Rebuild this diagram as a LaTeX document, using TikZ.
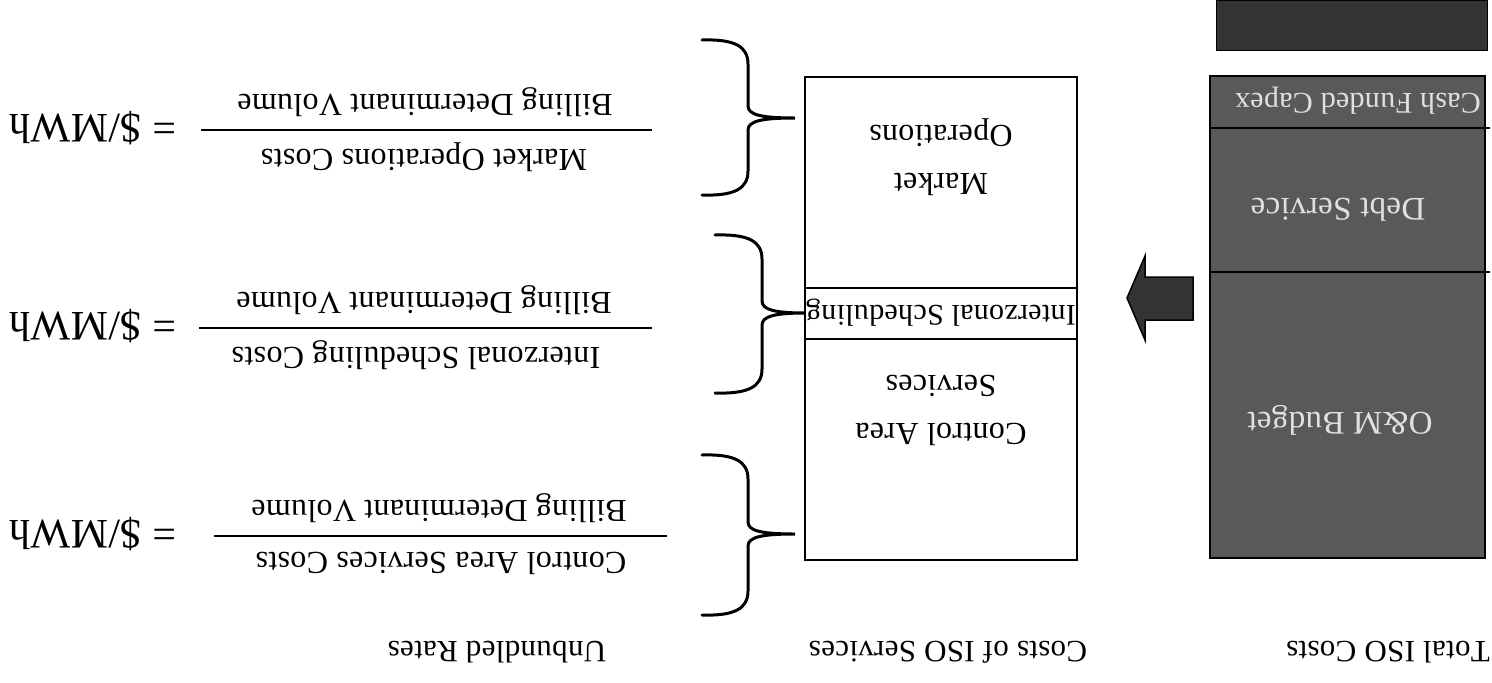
\documentclass[tikz,border=0pt]{standalone}
\usepackage{fontspec}
\setmainfont{Liberation Serif}[LetterSpace=1,Kerning=Off]
\newcommand\isobrace[6]{% xend ytop ybot xstem xcusp ycusp
  \draw[bracestyle] (#1,#2) .. controls ({#4-14},{#2-1}) and (#4,{#2+6}) .. (#4,{#2+24})
   -- (#4,{#6-12}) .. controls (#4,{#6-3}) and ({#4+14},#6) .. (#5,#6)
   .. controls ({#4+14},#6) and (#4,{#6+3}) .. (#4,{#6+12})
   -- (#4,{#3-24}) .. controls (#4,{#3-6}) and ({#4-14},{#3+1}) .. (#1,#3);}
\begin{document}
\begin{tikzpicture}[x=1pt,y=-1pt,
  every node/.style={inner sep=0pt, outer sep=0pt},
  flip/.style={rotate=180},
  fractxt/.style={flip, font=\fontsize{32}{36}\selectfont},
  eqtxt/.style={flip, font=\fontsize{42}{48}\selectfont},
  heading/.style={flip, font=\fontsize{31}{36}\selectfont},
  boxtxt/.style={flip, font=\fontsize{32}{48}\selectfont, align=center},
  graytxt/.style={flip, font=\fontsize{33}{38}\selectfont, text=black!12},
  seg/.style={draw=black, line width=2.4pt},
  grayseg/.style={draw=black, line width=2.4pt, fill=black!65},
  bracestyle/.style={line width=3pt, line cap=round},
  fracline/.style={line width=2.6pt},
  arrowshape/.style={draw=black, line width=1.5pt, fill=black!80},
]
\useasboundingbox (0,0) rectangle (1492,683);

% ---- Total ISO costs column
\fill[black!80, draw=black, line width=1pt] (1216,0) rectangle (1487,50);
\draw[grayseg] (1210,76) rectangle (1485,558);
\draw[line width=2.4pt] (1210,128) -- (1490,128);
\draw[line width=2.4pt] (1210,272) -- (1490,272);
\node[graytxt, font=\fontsize{30}{34}\selectfont] (capex) at (1358,101) {Cash Funded Capex};
\node[graytxt] (debt) at (1338,210) {Debt Service};
\node[graytxt] (om) at (1340,420) {O\&M Budget};

% ---- arrow
\fill[arrowshape] (1127,298) -- (1145,256) -- (1145,277) -- (1193,277)
  -- (1193,320) -- (1145,320) -- (1145,340) -- cycle;

% ---- Costs of ISO services column
\draw[seg] (805,77) rectangle (1077,560);
\draw[seg] (805,288) -- (1077,288);
\draw[seg] (805,339) -- (1077,339);
\node[boxtxt] (mkt) at (941,157) {Market\\Operations};
\node[boxtxt, font=\fontsize{30}{34}\selectfont] (isched) at (941,313) {Interzonal Scheduling};
\node[boxtxt] (cas) at (941,410) {Control Area\\Services};

% ---- braces
\isobrace{702}{40}{195}{748}{795}{118}
\isobrace{715}{235}{393}{762}{805}{313}
\isobrace{702}{455}{615}{748}{795}{534}

% ---- fractions
\node[fractxt] (n1) at (424,157) {Market Operations Costs};
\node[fractxt] (d1) at (425,102) {Billing Determinant Volume};
\draw[fracline] (201,130) -- (652,130);
\node[eqtxt] (e1) at (93,128) {= \$/MWh};

\node[fractxt] (n2) at (416,355) {Interzonal Scheduling Costs};
\node[fractxt] (d2) at (424,300) {Billing Determinant Volume};
\draw[fracline] (199,328) -- (652,328);
\node[eqtxt] (e2) at (93,326) {= \$/MWh};

\node[fractxt] (n3) at (441,563) {Control Area Services Costs};
\node[fractxt] (d3) at (439,508) {Billing Determinant Volume};
\draw[fracline] (214,536) -- (667,536);
\node[eqtxt] (e3) at (93,534) {= \$/MWh};

% ---- column headings
\node[heading] (h1) at (1388,652) {Total ISO Costs};
\node[heading] (h2) at (948,652) {Costs of ISO Services};
\node[heading] (h3) at (497,652) {Unbundled Rates};
\end{tikzpicture}
\end{document}
